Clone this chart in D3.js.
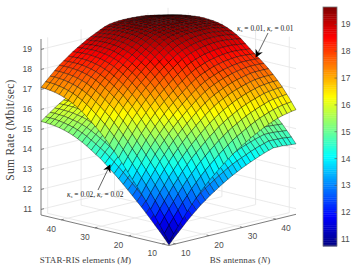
<!DOCTYPE html>
<html>
<head>
<meta charset="utf-8">
<script src="https://cdn.jsdelivr.net/npm/d3@7"></script>
<title>Sum rate surfaces</title>
<style>
body{ margin:0; background:white; }
svg{ display:block; }
text{ font-family:"Liberation Sans",sans-serif; }
.tex{ font-family:"Liberation Serif",serif; fill:#404040; }
</style>
</head>
<body>
<div id="chart"></div>
<script type="text/javascript">
var mValues = [8,9.36,10.71,12.07,13.43,14.79,16.14,17.5,18.86,20.21,21.57,22.93,24.29,25.64,27,28.36,29.71,31.07,32.43,33.79,35.14,36.5,37.86,39.21,40.57,41.93,43.29,44.64,46];
var nValues = [8,9.36,10.71,12.07,13.43,14.79,16.14,17.5,18.86,20.21,21.57,22.93,24.29,25.64,27,28.36,29.71,31.07,32.43,33.79,35.14,36.5,37.86,39.21,40.57,41.93,43.29,44.64,46];
var tickValues = [10,20,30,40];
var rateTicks = [11,12,13,14,15,16,17,18,19];

// rows follow mValues, columns follow nValues
var rateHigh = [
[10.90,11.24,11.57,11.87,12.19,12.48,12.77,13.03,13.27,13.51,13.71,13.92,14.12,14.31,14.49,14.65,14.81,14.95,15.09,15.22,15.34,15.46,15.56,15.66,15.75,15.82,15.87,15.92,15.95],
[11.27,11.62,11.95,12.27,12.59,12.88,13.17,13.43,13.68,13.92,14.13,14.34,14.54,14.73,14.91,15.08,15.23,15.36,15.50,15.63,15.75,15.86,15.95,16.04,16.12,16.18,16.23,16.26,16.29],
[11.63,11.99,12.32,12.64,12.97,13.27,13.56,13.82,14.08,14.31,14.53,14.74,14.94,15.13,15.31,15.48,15.63,15.76,15.90,16.02,16.13,16.23,16.32,16.40,16.48,16.53,16.56,16.59,16.61],
[11.97,12.33,12.67,13.00,13.34,13.63,13.93,14.20,14.46,14.69,14.91,15.13,15.33,15.52,15.71,15.87,16.02,16.15,16.28,16.40,16.50,16.59,16.67,16.75,16.82,16.86,16.89,16.91,16.92],
[12.31,12.68,13.02,13.35,13.69,13.99,14.28,14.55,14.81,15.05,15.27,15.49,15.69,15.89,16.07,16.23,16.38,16.50,16.63,16.74,16.83,16.92,16.99,17.06,17.12,17.15,17.18,17.19,17.19],
[12.65,13.02,13.36,13.70,14.03,14.33,14.63,14.90,15.16,15.40,15.61,15.83,16.03,16.23,16.41,16.57,16.72,16.84,16.95,17.06,17.14,17.22,17.29,17.35,17.40,17.42,17.44,17.44,17.44],
[12.98,13.35,13.69,14.03,14.37,14.66,14.95,15.23,15.48,15.72,15.94,16.15,16.36,16.55,16.73,16.89,17.03,17.14,17.25,17.35,17.43,17.51,17.56,17.61,17.66,17.68,17.68,17.68,17.67],
[13.29,13.66,14.00,14.34,14.68,14.97,15.26,15.54,15.79,16.03,16.25,16.46,16.66,16.85,17.03,17.19,17.33,17.44,17.54,17.63,17.70,17.77,17.82,17.86,17.89,17.91,17.91,17.90,17.88],
[13.59,13.96,14.30,14.64,14.97,15.27,15.55,15.82,16.07,16.31,16.53,16.74,16.94,17.12,17.30,17.46,17.59,17.70,17.79,17.88,17.95,18.00,18.05,18.08,18.11,18.11,18.10,18.09,18.07],
[13.90,14.26,14.61,14.94,15.27,15.56,15.85,16.11,16.36,16.59,16.81,17.02,17.21,17.40,17.57,17.73,17.86,17.95,18.05,18.13,18.18,18.24,18.27,18.30,18.32,18.32,18.30,18.28,18.25],
[14.20,14.56,14.90,15.23,15.56,15.85,16.13,16.40,16.64,16.87,17.08,17.29,17.49,17.67,17.84,17.99,18.12,18.21,18.30,18.37,18.42,18.47,18.50,18.52,18.53,18.52,18.50,18.47,18.44],
[14.50,14.86,15.20,15.53,15.86,16.15,16.42,16.69,16.93,17.16,17.37,17.57,17.77,17.95,18.12,18.27,18.39,18.48,18.56,18.63,18.67,18.71,18.74,18.75,18.75,18.74,18.71,18.68,18.64],
[14.78,15.14,15.48,15.81,16.14,16.42,16.70,16.96,17.21,17.43,17.64,17.85,18.04,18.22,18.39,18.54,18.66,18.74,18.82,18.88,18.92,18.95,18.97,18.98,18.97,18.96,18.92,18.88,18.84],
[15.05,15.41,15.74,16.07,16.40,16.68,16.95,17.21,17.45,17.67,17.88,18.08,18.27,18.44,18.61,18.75,18.87,18.95,19.02,19.08,19.11,19.14,19.15,19.15,19.14,19.12,19.08,19.04,18.99],
[15.31,15.66,15.99,16.31,16.63,16.91,17.17,17.43,17.66,17.88,18.09,18.28,18.47,18.64,18.80,18.94,19.06,19.13,19.20,19.25,19.28,19.30,19.31,19.30,19.29,19.26,19.22,19.17,19.12],
[15.56,15.91,16.23,16.55,16.86,17.13,17.39,17.64,17.87,18.08,18.29,18.48,18.66,18.83,18.98,19.12,19.23,19.30,19.36,19.41,19.42,19.43,19.43,19.42,19.41,19.39,19.34,19.29,19.23],
[15.77,16.11,16.43,16.74,17.05,17.31,17.56,17.81,18.04,18.24,18.44,18.63,18.81,18.97,19.12,19.26,19.36,19.42,19.45,19.48,19.48,19.50,19.49,19.48,19.47,19.45,19.42,19.37,19.31],
[15.98,16.31,16.62,16.93,17.23,17.48,17.73,17.97,18.19,18.39,18.58,18.76,18.93,19.09,19.24,19.37,19.44,19.48,19.51,19.53,19.54,19.54,19.54,19.53,19.51,19.48,19.45,19.42,19.37],
[16.18,16.50,16.81,17.10,17.39,17.64,17.88,18.11,18.32,18.52,18.71,18.88,19.05,19.20,19.34,19.44,19.50,19.53,19.56,19.58,19.59,19.59,19.58,19.56,19.54,19.52,19.48,19.45,19.41],
[16.37,16.68,16.98,17.26,17.54,17.78,18.01,18.24,18.44,18.63,18.81,18.98,19.14,19.29,19.41,19.48,19.54,19.57,19.60,19.62,19.62,19.62,19.60,19.59,19.57,19.54,19.51,19.47,19.43],
[16.53,16.83,17.12,17.39,17.67,17.89,18.11,18.33,18.53,18.71,18.89,19.05,19.20,19.35,19.45,19.51,19.57,19.60,19.62,19.63,19.63,19.63,19.62,19.60,19.58,19.55,19.51,19.48,19.44],
[16.67,16.96,17.24,17.51,17.77,17.99,18.20,18.41,18.60,18.78,18.95,19.11,19.25,19.39,19.47,19.54,19.59,19.62,19.63,19.65,19.65,19.64,19.63,19.60,19.58,19.55,19.51,19.48,19.44],
[16.79,17.07,17.34,17.60,17.85,18.06,18.26,18.47,18.65,18.82,18.98,19.13,19.27,19.41,19.48,19.54,19.59,19.61,19.63,19.64,19.63,19.63,19.62,19.59,19.57,19.54,19.50,19.46,19.42],
[16.88,17.15,17.41,17.66,17.91,18.11,18.31,18.50,18.68,18.84,19.00,19.15,19.28,19.41,19.48,19.54,19.58,19.60,19.62,19.63,19.62,19.62,19.60,19.57,19.55,19.52,19.48,19.44,19.40],
[16.96,17.22,17.47,17.72,17.95,18.15,18.34,18.53,18.70,18.86,19.01,19.15,19.28,19.41,19.47,19.53,19.57,19.59,19.61,19.61,19.60,19.60,19.58,19.56,19.53,19.50,19.46,19.42,19.36],
[17.02,17.27,17.52,17.75,17.98,18.17,18.36,18.54,18.70,18.85,19.00,19.14,19.26,19.38,19.45,19.51,19.55,19.57,19.59,19.59,19.58,19.57,19.55,19.53,19.50,19.47,19.43,19.38,19.31],
[17.06,17.31,17.54,17.77,17.99,18.17,18.35,18.53,18.69,18.83,18.97,19.11,19.23,19.34,19.43,19.48,19.52,19.54,19.55,19.55,19.54,19.53,19.51,19.48,19.45,19.42,19.38,19.31,19.24],
[17.09,17.33,17.56,17.78,17.99,18.17,18.34,18.51,18.67,18.80,18.94,19.07,19.19,19.30,19.40,19.45,19.49,19.50,19.51,19.51,19.51,19.49,19.47,19.44,19.42,19.37,19.31,19.24,19.17],
[17.10,17.33,17.55,17.77,17.98,18.15,18.32,18.49,18.64,18.77,18.91,19.03,19.14,19.25,19.35,19.42,19.45,19.47,19.48,19.48,19.47,19.45,19.43,19.41,19.36,19.30,19.24,19.17,19.10]
];

var rateLow = [
[10.75,11.01,11.25,11.48,11.72,11.94,12.15,12.35,12.53,12.71,12.86,13.02,13.17,13.31,13.44,13.56,13.68,13.79,13.89,13.99,14.08,14.17,14.25,14.32,14.31,14.31,14.28,14.26,14.24],
[11.03,11.29,11.54,11.78,12.02,12.24,12.45,12.65,12.84,13.02,13.17,13.33,13.48,13.62,13.76,13.89,14.00,14.10,14.20,14.30,14.39,14.47,14.54,14.61,14.60,14.59,14.58,14.55,14.53],
[11.30,11.57,11.82,12.06,12.30,12.53,12.75,12.94,13.14,13.31,13.47,13.63,13.78,13.92,14.06,14.19,14.30,14.40,14.50,14.59,14.67,14.75,14.82,14.88,14.88,14.87,14.85,14.82,14.80],
[11.55,11.82,12.08,12.33,12.58,12.80,13.02,13.23,13.42,13.59,13.76,13.92,14.07,14.22,14.36,14.48,14.59,14.69,14.79,14.88,14.95,15.02,15.08,15.14,15.14,15.13,15.11,15.09,15.07],
[11.81,12.09,12.34,12.59,12.84,13.07,13.29,13.49,13.68,13.86,14.03,14.19,14.34,14.49,14.63,14.75,14.86,14.95,15.05,15.13,15.20,15.27,15.32,15.37,15.38,15.37,15.36,15.33,15.31],
[12.06,12.34,12.60,12.85,13.10,13.32,13.55,13.75,13.95,14.13,14.28,14.45,14.60,14.75,14.88,15.00,15.12,15.21,15.29,15.37,15.43,15.49,15.54,15.59,15.60,15.58,15.58,15.55,15.53],
[12.31,12.59,12.84,13.10,13.35,13.57,13.79,14.00,14.19,14.37,14.53,14.69,14.85,14.99,15.12,15.24,15.35,15.43,15.51,15.59,15.65,15.71,15.75,15.78,15.80,15.80,15.78,15.76,15.74],
[12.54,12.82,13.08,13.33,13.59,13.80,14.02,14.23,14.42,14.60,14.76,14.92,15.07,15.21,15.35,15.47,15.57,15.66,15.73,15.80,15.85,15.90,15.94,15.97,15.99,15.99,15.98,15.96,15.94],
[12.77,13.05,13.30,13.56,13.80,14.03,14.24,14.44,14.63,14.81,14.97,15.13,15.28,15.42,15.55,15.67,15.77,15.85,15.92,15.99,16.04,16.08,16.11,16.14,16.16,16.16,16.15,16.14,16.11],
[13.00,13.27,13.53,13.78,14.03,14.25,14.46,14.66,14.85,15.02,15.18,15.34,15.48,15.63,15.75,15.87,15.97,16.04,16.11,16.17,16.21,16.26,16.28,16.30,16.32,16.32,16.30,16.29,16.26],
[13.23,13.50,13.75,14.00,14.25,14.46,14.67,14.88,15.06,15.23,15.39,15.54,15.69,15.83,15.96,16.07,16.17,16.23,16.30,16.35,16.39,16.43,16.45,16.47,16.47,16.47,16.45,16.43,16.41],
[13.45,13.72,13.98,14.22,14.47,14.69,14.89,15.09,15.27,15.45,15.60,15.75,15.90,16.04,16.17,16.28,16.37,16.44,16.50,16.55,16.58,16.61,16.63,16.64,16.64,16.63,16.61,16.59,16.56],
[13.66,13.93,14.19,14.43,14.68,14.89,15.10,15.30,15.48,15.65,15.81,15.96,16.11,16.24,16.37,16.48,16.57,16.63,16.69,16.74,16.77,16.79,16.80,16.81,16.80,16.80,16.77,16.74,16.71],
[13.86,14.13,14.38,14.63,14.88,15.09,15.29,15.48,15.66,15.83,15.99,16.14,16.28,16.41,16.53,16.64,16.73,16.79,16.84,16.89,16.91,16.93,16.94,16.94,16.93,16.92,16.89,16.86,16.82],
[14.06,14.32,14.57,14.81,15.05,15.26,15.45,15.65,15.82,15.99,16.14,16.29,16.43,16.56,16.68,16.78,16.87,16.92,16.98,17.01,17.04,17.05,17.06,17.05,17.04,17.02,16.99,16.95,16.92],
[14.25,14.51,14.75,14.99,15.22,15.42,15.62,15.81,15.98,16.14,16.29,16.44,16.57,16.70,16.81,16.92,17.00,17.05,17.10,17.13,17.14,17.15,17.15,17.14,17.13,17.12,17.08,17.04,17.00],
[14.40,14.66,14.90,15.13,15.36,15.56,15.75,15.93,16.11,16.26,16.41,16.55,16.68,16.80,16.92,17.02,17.10,17.14,17.16,17.19,17.19,17.20,17.19,17.19,17.18,17.16,17.14,17.10,17.06],
[14.56,14.81,15.04,15.27,15.50,15.69,15.87,16.05,16.22,16.37,16.51,16.65,16.77,16.89,17.01,17.10,17.16,17.19,17.21,17.22,17.23,17.23,17.23,17.22,17.21,17.19,17.16,17.14,17.10],
[14.71,14.95,15.18,15.40,15.62,15.81,15.99,16.16,16.32,16.47,16.61,16.74,16.86,16.98,17.08,17.16,17.20,17.22,17.25,17.26,17.27,17.27,17.26,17.25,17.23,17.22,17.19,17.16,17.13],
[14.85,15.09,15.31,15.52,15.73,15.91,16.08,16.26,16.41,16.55,16.68,16.81,16.93,17.04,17.13,17.19,17.23,17.25,17.28,17.29,17.29,17.29,17.28,17.27,17.25,17.23,17.21,17.18,17.15],
[14.97,15.20,15.42,15.62,15.83,15.99,16.16,16.32,16.47,16.61,16.74,16.86,16.98,17.09,17.16,17.21,17.25,17.28,17.29,17.30,17.30,17.30,17.29,17.28,17.26,17.24,17.21,17.19,17.16],
[15.08,15.30,15.51,15.71,15.90,16.07,16.23,16.38,16.53,16.66,16.79,16.91,17.01,17.12,17.18,17.23,17.27,17.29,17.30,17.31,17.31,17.31,17.30,17.28,17.26,17.24,17.21,17.19,17.16],
[15.17,15.38,15.58,15.78,15.96,16.12,16.27,16.43,16.56,16.69,16.81,16.92,17.03,17.13,17.19,17.23,17.27,17.28,17.30,17.31,17.30,17.30,17.29,17.27,17.25,17.23,17.20,17.17,17.14],
[15.24,15.44,15.63,15.82,16.01,16.16,16.31,16.45,16.59,16.71,16.83,16.94,17.04,17.13,17.19,17.23,17.26,17.28,17.29,17.30,17.29,17.29,17.28,17.25,17.24,17.22,17.19,17.16,17.13],
[15.30,15.49,15.68,15.87,16.04,16.19,16.33,16.47,16.60,16.72,16.83,16.94,17.04,17.13,17.18,17.22,17.25,17.27,17.28,17.28,17.28,17.28,17.26,17.25,17.22,17.20,17.17,17.14,17.10],
[15.34,15.53,15.72,15.89,16.06,16.20,16.35,16.48,16.60,16.71,16.83,16.93,17.02,17.11,17.16,17.21,17.24,17.25,17.27,17.27,17.26,17.25,17.24,17.22,17.20,17.18,17.15,17.11,17.06],
[15.37,15.56,15.73,15.90,16.07,16.20,16.34,16.47,16.59,16.70,16.80,16.91,17.00,17.08,17.15,17.19,17.22,17.23,17.24,17.24,17.23,17.22,17.21,17.19,17.16,17.14,17.11,17.06,17.01],
[15.39,15.57,15.75,15.91,16.07,16.20,16.33,16.46,16.58,16.68,16.78,16.88,16.97,17.05,17.13,17.16,17.19,17.20,17.21,17.21,17.21,17.19,17.18,17.16,17.14,17.10,17.06,17.01,16.95],
[15.40,15.57,15.74,15.90,16.06,16.19,16.32,16.44,16.56,16.65,16.76,16.85,16.93,17.01,17.09,17.14,17.16,17.18,17.19,17.19,17.18,17.16,17.15,17.13,17.10,17.05,17.01,16.95,16.90]
];

var props = {
  width: 357,
  height: 269,
  originX: 169,
  originY: 245.5
}

// oblique box: each data axis moves the point along a fixed screen direction
var xFromM = d3.scaleLinear().domain([8,46]).range([0,-128]);
var yFromM = d3.scaleLinear().domain([8,46]).range([0,-30.5]);
var xFromN = d3.scaleLinear().domain([8,46]).range([0,127]);
var yFromN = d3.scaleLinear().domain([8,46]).range([0,-31.2]);
var yFromRate = d3.scaleLinear().domain([10.72,19.52]).range([0,-176]);

function project(m, n, rate){
  return [props.originX + xFromM(m) + xFromN(n),
          props.originY + yFromM(m) + yFromN(n) + yFromRate(rate)];
}

var jet = d3.scaleLinear()
  .domain([0,0.125,0.375,0.625,0.875,1])
  .range(["#00007f","#0000ff","#00ffff","#ffff00","#ff0000","#7f0000"])
  .clamp(true);
var rateToUnit = d3.scaleLinear().domain([10.74,19.65]).range([0,1]);
function rateColor(rate){ return jet(rateToUnit(rate)); }

var svg = d3.select("#chart").append("svg").attr("width",props.width).attr("height",props.height);
var line = d3.line();

// walls and floor
var grid = svg.append("g").attr("fill","none").attr("stroke","#e4e4e4").attr("stroke-width",0.8);
rateTicks.forEach(function(r){
  grid.append("path").attr("d",line([project(46,8,r),project(46,46,r),project(8,46,r)]));
});
tickValues.forEach(function(t){
  grid.append("path").attr("d",line([project(t,8,10.72),project(t,46,10.72),project(t,46,19.52)]));
  grid.append("path").attr("d",line([project(8,t,10.72),project(46,t,10.72),project(46,t,19.52)]));
});
grid.append("path").attr("d",line([project(46,46,10.72),project(46,46,19.52)]));

// axes
var axes = svg.append("g").attr("fill","none").attr("stroke","#6e6e6e").attr("stroke-width",0.9);
axes.append("path").attr("d",line([project(46,8,19.52),project(46,8,10.72),project(8,8,10.72),project(8,46,10.72)]));
rateTicks.forEach(function(r){
  var p = project(46,8,r);
  axes.append("path").attr("d",line([p,[p[0]+3,p[1]-0.7]]));
});
tickValues.forEach(function(t){
  var a = project(t,8,10.72), b = project(8,t,10.72);
  axes.append("path").attr("d",line([a,[a[0]+2.5,a[1]-0.6]]));
  axes.append("path").attr("d",line([b,[b[0]-2.5,b[1]-0.6]]));
});

function drawSurface(table){
  var cells = [];
  d3.range(mValues.length-1).forEach(function(i){
    d3.range(nValues.length-1).forEach(function(j){
      cells.push({i:i,j:j});
    });
  });
  // far cells first
  cells.sort(function(a,b){ return (b.i+b.j)-(a.i+a.j); });
  svg.append("g").selectAll("path").data(cells).enter().append("path")
    .attr("d",function(c){
      var i = c.i, j = c.j;
      return line([
        project(mValues[i],nValues[j],table[i][j]),
        project(mValues[i+1],nValues[j],table[i+1][j]),
        project(mValues[i+1],nValues[j+1],table[i+1][j+1]),
        project(mValues[i],nValues[j+1],table[i][j+1])
      ]) + "Z";
    })
    .attr("fill",function(c){
      var i = c.i, j = c.j;
      return rateColor((table[i][j]+table[i+1][j]+table[i+1][j+1]+table[i][j+1])/4);
    })
    .attr("stroke","#000")
    .attr("stroke-opacity",0.7)
    .attr("stroke-width",0.55);
}
drawSurface(rateLow);
drawSurface(rateHigh);

// tick labels
var labels = svg.append("g").attr("font-size","8.5px").attr("fill","#4d4d4d");
rateTicks.forEach(function(r){
  labels.append("text").attr("x",32).attr("y",project(46,8,r)[1]+3).attr("text-anchor","end").text(r);
});
tickValues.forEach(function(t){
  var a = project(t,8,10.72), b = project(8,t,10.72);
  labels.append("text").attr("x",a[0]-10).attr("y",a[1]+12).attr("text-anchor","middle").text(t);
  labels.append("text").attr("x",b[0]+10).attr("y",b[1]+12).attr("text-anchor","middle").text(t);
});

// axis titles
svg.append("text").attr("class","tex").attr("transform","translate(14,130) rotate(-90)")
  .attr("text-anchor","middle").attr("font-size","11.5px").attr("letter-spacing","0.3px").text("Sum Rate (Mbit/sec)");
var mTitle = svg.append("text").attr("class","tex").attr("x",85.5).attr("y",263).attr("text-anchor","middle").attr("font-size","9px").attr("letter-spacing","0.1px");
mTitle.append("tspan").text("STAR-RIS elements (");
mTitle.append("tspan").attr("font-style","italic").text("M");
mTitle.append("tspan").text(")");
var nTitle = svg.append("text").attr("class","tex").attr("x",240).attr("y",263).attr("text-anchor","middle").attr("font-size","9px").attr("letter-spacing","0.1px");
nTitle.append("tspan").text("BS antennas (");
nTitle.append("tspan").attr("font-style","italic").text("N");
nTitle.append("tspan").text(")");

// annotations
svg.append("defs").append("marker").attr("id","head").attr("viewBox","0 0 10 10")
  .attr("refX",9).attr("refY",5).attr("markerUnits","userSpaceOnUse").attr("markerWidth",8).attr("markerHeight",8).attr("orient","auto")
  .append("path").attr("d","M0,0L10,5L0,10L3,5Z").attr("fill","#000");

function note(x, y, a, b){
  var t = svg.append("text").attr("class","tex").attr("x",x).attr("y",y).attr("font-size","7.4px").style("fill","#222");
  t.append("tspan").attr("font-style","italic").text("\u03ba");
  t.append("tspan").attr("font-style","italic").attr("font-size","5px").attr("dy",1).text("s");
  t.append("tspan").attr("dy",-1).text(" = " + a + ", ");
  t.append("tspan").attr("font-style","italic").text("\u03ba");
  t.append("tspan").attr("font-style","italic").attr("font-size","5px").attr("dy",1).text("r");
  t.append("tspan").attr("dy",-1).text(" = " + b);
}
note(237,31,"0.01","0.01");
note(67,197,"0.02","0.02");

var arrowEnds = [[[268,33],[256,57]],[[98,190],[110,165]]];
arrowEnds.forEach(function(e){
  svg.append("path").attr("d",line(e)).attr("fill","none").attr("stroke","#222").attr("stroke-width",0.7).attr("marker-end","url(#head)");
});

// colorbar
var barY = d3.scaleLinear().domain([10.74,19.65]).range([246,7]);
var steps = d3.range(0,128);
var barBox = svg.append("g");
barBox.selectAll("rect").data(steps).enter().append("rect")
  .attr("x",323).attr("width",14)
  .attr("y",function(s){ return barY(10.74+(s+1)/128*8.91); })
  .attr("height",239/128+0.4)
  .attr("fill",function(s){ return jet((s+0.5)/128); });
barBox.append("rect").attr("x",323).attr("y",7).attr("width",14).attr("height",239)
  .attr("fill","none").attr("stroke","#777").attr("stroke-width",0.8);
rateTicks.forEach(function(r){
  barBox.append("path").attr("d",line([[334.5,barY(r)],[337,barY(r)]])).attr("stroke","#555").attr("stroke-width",0.6);
  barBox.append("text").attr("x",341).attr("y",barY(r)+3).attr("font-size","8.5px").attr("fill","#4d4d4d").text(r);
});
</script>
</body>
</html>
